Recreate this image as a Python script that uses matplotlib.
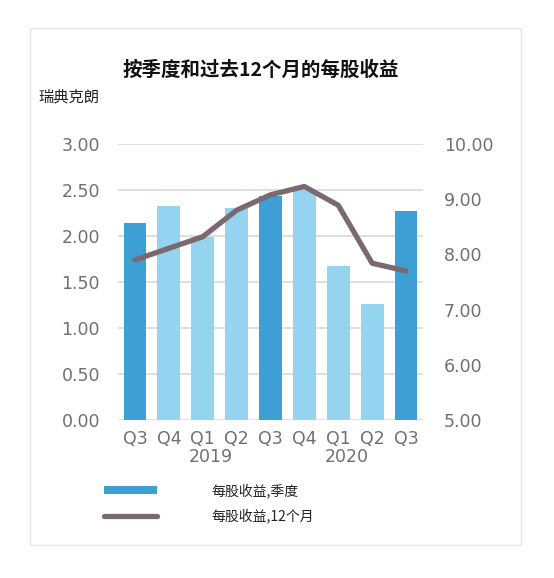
import numpy as np
import matplotlib
matplotlib.use('Agg')
import matplotlib.pyplot as plt
from matplotlib.patches import Rectangle

plt.rcParams['font.family'] = ['DejaVu Sans', 'Noto Sans CJK SC']
cjk = ['Noto Sans CJK SC', 'DejaVu Sans']

quarters = ['Q3', 'Q4', 'Q1', 'Q2', 'Q3', 'Q4', 'Q1', 'Q2', 'Q3']
years = ['2019', '2020']
year_pos = [2.25, 6.25]
eps_quarter = [2.14, 2.33, 1.99, 2.30, 2.43, 2.50, 1.67, 1.26, 2.27]
eps_12m = [7.90, 8.11, 8.32, 8.80, 9.08, 9.23, 8.89, 7.84, 7.70]
is_q3 = [True, False, False, False, True, False, False, False, True]

dark_blue = '#3d9fd4'
light_blue = '#94d4f0'
line_col = '#7b6971'
tick_col = '#707070'

fig = plt.figure(figsize=(5.54, 5.78), dpi=100)

# card outline
fig.patches.append(Rectangle((30 / 554, 1 - 545 / 578), 491 / 554, 517 / 578,
                             transform=fig.transFigure, fill=False,
                             edgecolor='#e4e4e4', linewidth=1))

ax = fig.add_axes([118 / 554, 1 - 420 / 578, 305 / 554, 276 / 578])
x = np.arange(len(quarters))
colors = [dark_blue if q else light_blue for q in is_q3]
ax.bar(x, eps_quarter, width=0.67, color=colors, zorder=2, label='每股收益,季度')
ax.set_xlim(-0.5, len(quarters) - 0.5)
ax.set_ylim(0, 3)
ax.set_yticks(np.arange(0, 3.01, 0.5))
ax.set_yticklabels([f'{v:.2f}' for v in np.arange(0, 3.01, 0.5)])
ax.set_xticks(x)
ax.set_xticklabels(quarters)
ax.grid(axis='y', color='#dcdcdc', linewidth=1.3, zorder=0)
ax.tick_params(axis='y', length=0, pad=13, labelsize=12.5, labelcolor=tick_col)
ax.tick_params(axis='x', length=0, pad=7, labelsize=12.5, labelcolor=tick_col)
for s in ax.spines.values():
    s.set_visible(False)

for yr, p in zip(years, year_pos):
    ax.text(p, -0.40, yr, ha='center', va='center', fontsize=12.5,
            color=tick_col)

ax2 = ax.twinx()
ax2.plot(x, eps_12m, color=line_col, linewidth=3.8, solid_capstyle='round',
         solid_joinstyle='round', label='每股收益,12个月')
ax2.set_ylim(5, 10)
ax2.set_yticks(np.arange(5, 10.01, 1))
ax2.set_yticklabels([f'{v:.2f}' for v in np.arange(5, 10.01, 1)])
ax2.tick_params(axis='y', length=0, pad=15, labelsize=12.5, labelcolor=tick_col)
for s in ax2.spines.values():
    s.set_visible(False)

fig.text(0.470, 1 - 70 / 578, '按季度和过去12个月的每股收益', ha='center',
         va='center', fontsize=14, fontweight='bold', color='#111111',
         family=cjk)
fig.text(38 / 554, 1 - 97 / 578, '瑞典克朗', ha='left', va='center',
         fontsize=11, color='#222222', family=cjk)

h1, l1 = ax.get_legend_handles_labels()
h2, l2 = ax2.get_legend_handles_labels()
leg = fig.legend(h1 + h2, l1 + l2, loc='upper left',
                 bbox_to_anchor=(104 / 554, 1 - 483 / 578),
                 frameon=False, prop={'family': cjk, 'size': 10},
                 borderpad=0, borderaxespad=0,
                 handlelength=3.8, handleheight=0.6, handletextpad=3.9,
                 labelspacing=0.75)
for t in leg.get_texts():
    t.set_color('#222222')

fig.savefig('out.png', dpi=100)
